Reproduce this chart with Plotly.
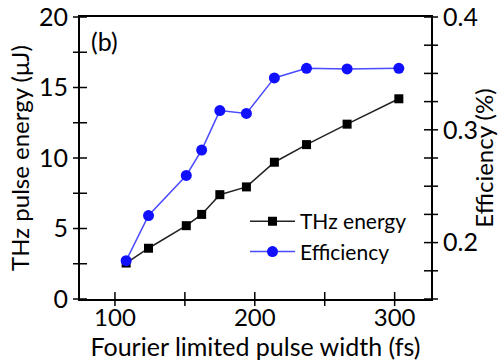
import plotly.graph_objects as go

# Fourier-limited pulse width (fs)
pulse_width = [108, 124, 151, 162, 175, 194, 214, 237, 266, 303]
# THz pulse energy (uJ)
thz_energy = [2.55, 3.6, 5.2, 6.0, 7.4, 7.95, 9.7, 10.95, 12.4, 14.2]
# Conversion efficiency (%)
efficiency = [0.184, 0.224, 0.2595, 0.282, 0.317, 0.3145, 0.346, 0.3545, 0.354, 0.3545]

FONT = "Lato"
FS = 25
X_RANGE = [75, 326]
Y_RANGE = [0, 20]
Y2_RANGE = [0.15, 0.4]

# tick positions (major + minor) for the crossing tick marks
x_marks = [100 + 50 * i for i in range(5)]
y_marks = [2.5 * i for i in range(9)]
y2_marks = [round(0.15 + 0.025 * i, 3) for i in range(11)]

fig = go.Figure()

fig.add_trace(go.Scatter(
    x=pulse_width, y=thz_energy, name="THz energy",
    mode="lines+markers",
    line=dict(color="#222222", width=1.5),
    marker=dict(symbol="square", size=9, color="black"),
    xaxis="x", yaxis="y",
))
fig.add_trace(go.Scatter(
    x=pulse_width, y=efficiency, name="Efficiency",
    mode="lines+markers",
    line=dict(color="#4a4aff", width=1.5),
    marker=dict(symbol="circle", size=11, color="#1010ff"),
    xaxis="x", yaxis="y2",
))

# tick marks that straddle the axis lines
tick_marker = dict(size=10, color="black", line=dict(color="black", width=1.5))
fig.add_trace(go.Scatter(
    x=x_marks, y=[Y_RANGE[0]] * len(x_marks), mode="markers",
    marker=dict(symbol="line-ns", **tick_marker), cliponaxis=False,
    showlegend=False, hoverinfo="skip", xaxis="x", yaxis="y",
))
fig.add_trace(go.Scatter(
    x=[X_RANGE[0]] * len(y_marks), y=y_marks, mode="markers",
    marker=dict(symbol="line-ew", **tick_marker), cliponaxis=False,
    showlegend=False, hoverinfo="skip", xaxis="x", yaxis="y",
))
fig.add_trace(go.Scatter(
    x=[X_RANGE[1]] * len(y2_marks), y=y2_marks, mode="markers",
    marker=dict(symbol="line-ew", **tick_marker), cliponaxis=False,
    showlegend=False, hoverinfo="skip", xaxis="x", yaxis="y2",
))

axis_common = dict(ticks="", showline=True, linecolor="black", linewidth=2,
                   showgrid=False, zeroline=False, automargin=False)

fig.update_layout(
    width=498, height=362,
    margin=dict(l=80, r=67, t=17, b=63),
    paper_bgcolor="white", plot_bgcolor="white",
    font=dict(family=FONT, size=FS, color="black"),
    showlegend=True,
    legend=dict(
        x=0.47, y=0.347, xanchor="left", yanchor="top",
        bgcolor="rgba(0,0,0,0)", font=dict(size=21, family=FONT),
        itemwidth=45, tracegroupgap=0,
    ),
    xaxis=dict(
        range=X_RANGE, tick0=0, dtick=100, **axis_common,
        mirror=True, ticklabelstandoff=-4, tickfont=dict(size=24),
        title=dict(text="Fourier limited pulse width (fs)",
                   font=dict(size=25), standoff=2),
    ),
    yaxis=dict(
        range=Y_RANGE, tick0=0, dtick=5, **axis_common, ticklabelstandoff=5,
        tickfont=dict(size=FS),
        title=dict(text="THz pulse energy (\u03bcJ)", font=dict(size=24), standoff=3),
    ),
    yaxis2=dict(
        range=Y2_RANGE, overlaying="y", side="right", anchor="x",
        tick0=0, dtick=0.1, tickformat=".1f", **axis_common, ticklabelstandoff=5,
        tickfont=dict(size=FS),
        title=dict(text="Efficiency (%)", font=dict(size=24), standoff=8),
    ),
    annotations=[dict(
        text="(b)", xref="paper", yref="paper", x=0.025, y=0.975,
        xanchor="left", yanchor="top", showarrow=False,
        font=dict(size=FS, family=FONT),
    )],
)

fig.write_html("out.html")
